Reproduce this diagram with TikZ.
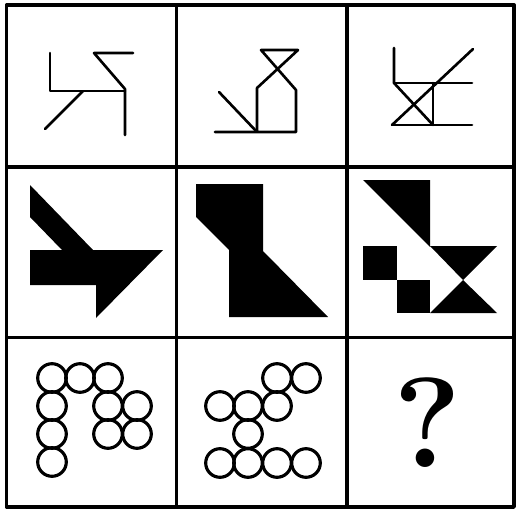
\documentclass[tikz,border=0pt]{standalone}
\usepackage{tikz}
\begin{document}
\begin{tikzpicture}[x=0.02cm,y=-0.02cm,line join=round,
  grid/.style={line width=1.9pt},
  stroke/.style={line width=1.5pt,line cap=round},
  ring/.style={line width=1.8pt},
  solid/.style={fill=black,line join=miter}]
\path[use as bounding box] (0,0) rectangle (517,510);
\fill[white] (0,0) rectangle (517,510);

% 3 x 3 frame
\draw[grid] (6.5,5) rectangle (514,507);
\foreach \x in {176.5,347} \draw[grid] (\x,5)--(\x,507);
\foreach \y in {167,337.5} \draw[grid] (6.5,\y)--(514,\y);

% row 1: line figures
\draw[stroke] (50,53)--(50,91)--(125,91);
\draw[stroke] (133,53)--(94,53)--(125,89)--(125,135);
\draw[stroke] (83,91)--(45,129);

\draw[stroke] (215,132)--(296,132)--(296,90)--(261,50)--(298,50)--(257,88)--(257,132);
\draw[stroke] (219,92)--(257,132);

\draw[stroke] (394,48)--(394,83)--(433,125);
\draw[stroke] (394,83)--(472,83);
\draw[stroke] (392,125)--(472,125);
\draw[stroke] (433,83)--(433,125);
\draw[stroke] (392,125)--(473,49);

% row 2: solid figures
\fill[solid] (30,185)--(93,250)--(163,250)--(96,318)--(96,285)--(30,285)
  --(30,250)--(62,250)--(30,217)--cycle;

\fill[solid] (196,184)--(263,184)--(263,251)--(328,317)--(229,317)
  --(229,250)--(196,217)--cycle;

\fill[solid] (363,180)--(430,180)--(430,247)--cycle;
\fill[solid] (430,246)--(497,246)--(463,280)--cycle;
\fill[solid] (463,280)--(497,313)--(430,313)--cycle;
\fill[solid] (363,246) rectangle (397,280);
\fill[solid] (397,280) rectangle (430,313);

% row 3: circles
\foreach \p in {(52,378),(80,378),(108,378),(52,406),(52,434),(52,462),
  (108,406),(108,434),(137,406),(137,434)}
  \draw[ring] \p circle[radius=14.3];
\foreach \p in {(277,378),(306,378),(220,406),(248,406),(277,406),(248,434),
  (220,463),(248,463),(277,463),(306,463)}
  \draw[ring] \p circle[radius=14.3];

\node[font=\bfseries\fontsize{73}{73}\selectfont,inner sep=0pt] (qmark) at (428,422.5) {?};
\end{tikzpicture}
\end{document}
